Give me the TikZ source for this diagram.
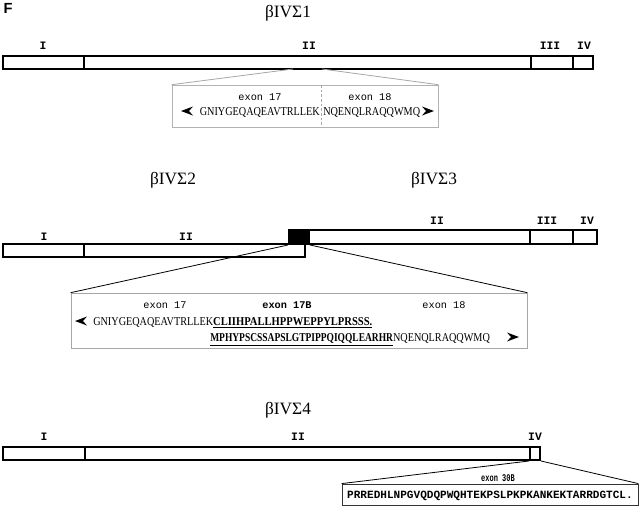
\documentclass[tikz,border=0pt]{standalone}
\usepackage{fontspec}
\setmainfont{Liberation Serif}
\newfontfamily\monof{Liberation Mono}
\newfontfamily\seqf[FakeStretch=0.85]{Liberation Serif}
\newfontfamily\seqfa[FakeStretch=0.88]{Liberation Serif}
\newfontfamily\seqfb[FakeStretch=0.79]{Liberation Serif}
\newfontfamily\narmono[FakeStretch=0.68]{Liberation Mono}
\newfontfamily\sansf{Liberation Sans}
\usetikzlibrary{fit}
\begin{document}
\begin{tikzpicture}[x=0.75pt,y=-0.75pt,
  seg/.style={draw, line width=1.5pt, inner sep=0pt, fill=white},
  blk/.style={seg, fill=black},
  dom/.style={font=\monof\bfseries\fontsize{8.5}{10}\selectfont, inner sep=0pt},
  ttl/.style={font=\fontsize{13}{15}\selectfont, inner sep=0pt},
  insetbox/.style={draw=gray!70, line width=0.5pt, inner sep=0pt},
  zl/.style={line width=0.6pt},
  exl/.style={font=\monof\fontsize{7.7}{9}\selectfont, inner sep=0pt},
  seq/.style={font=\seqf\fontsize{9}{11}\selectfont, inner sep=0pt},
  larr/.pic={\fill (0,0) -- (12,-4.5) -- (8,0) -- (12,4.5) -- cycle;},
  rarr/.pic={\fill (0,0) -- (-12,-4.5) -- (-8,0) -- (-12,4.5) -- cycle;}]
\useasboundingbox (0,0) rectangle (640,507);

% panel letter
\node[font=\sansf\bfseries\fontsize{11}{13}\selectfont, inner sep=0pt] (F) at (8,8) {F};

% ===== beta IV Sigma 1 =====
\node[ttl] (t1) at (288,13) {βIVΣ1};
\node[seg, fit={(3,56) (84,69)}] (b1a) {};
\node[seg, fit={(84,56) (531,69)}] (b1b) {};
\node[seg, fit={(531,56) (573,69)}] (b1c) {};
\node[seg, fit={(573,56) (593,69)}] (b1d) {};
\node[dom] (l1a) at (43,46) {I};
\node[dom] (l1b) at (309,46) {II};
\node[dom] (l1c) at (550,46) {III};
\node[dom] (l1d) at (584,46) {IV};

\node[insetbox, draw=gray!60, fit={(172,85) (438,127)}] (box1) {};
\coordinate (z1a) at (293,69);
\coordinate (z1b) at (322,69);
\draw[zl, gray!70] (z1a) -- (box1.north west);
\draw[zl, gray!70] (z1b) -- (box1.north east);
\coordinate (d1t) at (321,85);
\coordinate (d1b) at (321,127);
\draw[gray!70, line width=0.5pt, dashed, dash pattern=on 2pt off 1.5pt] (d1t) -- (d1b);
\node[exl, anchor=base] (e17a) at (260,100) {exon 17};
\node[exl, anchor=base] (e18a) at (370,100) {exon 18};
\node[seq, anchor=base east] (s1l) at (320,115) {GNIYGEQAQEAVTRLLEK};
\node[seq, anchor=base west] (s1r) at (323,115) {NQENQLRAQQWMQ};
\pic at (181,111) {larr};
\pic at (434,111) {rarr};

% ===== beta IV Sigma 2 / 3 =====
\node[ttl] (t2) at (173,180) {βIVΣ2};
\node[ttl] (t3) at (434,180) {βIVΣ3};
\node[seg, fit={(3,244) (84,257)}] (b2a) {};
\node[seg, fit={(84,244) (305,257)}] (b2b) {};
\node[blk, fit={(289,230) (309,244)}] (blk) {};
\node[seg, fit={(309,230) (530,244)}] (b3b) {};
\node[seg, fit={(530,230) (573,244)}] (b3c) {};
\node[seg, fit={(573,230) (597,244)}] (b3d) {};
\node[dom] (l2a) at (44,237) {I};
\node[dom] (l2b) at (186,237) {II};
\node[dom] (l3b) at (437,221) {II};
\node[dom] (l3c) at (547,221) {III};
\node[dom] (l3d) at (587,221) {IV};

\node[insetbox, fit={(71,293) (527,348)}] (box2) {};
\draw[zl] (blk.south west) -- (box2.north west);
\draw[zl] (blk.south east) -- (box2.north east);
\node[exl, anchor=base] (e17b) at (165,308) {exon 17};
\node[exl, anchor=base, font=\monof\bfseries\fontsize{7.7}{9}\selectfont] (e17B) at (287,308) {exon 17B};
\node[exl, anchor=base] (e18b) at (444,308) {exon 18};
\node[seq, anchor=base west] (q1) at (93,325) {GNIYGEQAQEAVTRLLEK\underline{\seqfa\bfseries CLIIHPALLHPPWEPPYLPRSSS.}};
\node[seq, anchor=base west] (q2) at (210,341) {\underline{\seqfb\bfseries MPHYPSCSSAPSLGTPIPPQIQQLEARHR}NQENQLRAQQWMQ};
\pic at (75,321) {larr};
\pic at (519,337) {rarr};

% ===== beta IV Sigma 4 =====
\node[ttl] (t4) at (288,410) {βIVΣ4};
\node[seg, fit={(3,447) (85,460)}] (b4a) {};
\node[seg, fit={(85,447) (530,460)}] (b4b) {};
\node[seg, fit={(530,447) (540,460)}] (b4c) {};
\node[dom] (l4a) at (44,437) {I};
\node[dom] (l4b) at (298,437) {II};
\node[dom] (l4c) at (535,437) {IV};

\node[insetbox, draw=gray!40!black, line width=0.6pt, fit={(342,484) (638,505)}] (box3) {};
\draw[zl] (b4c.south west) -- (box3.north west);
\draw[zl] (b4c.south east) -- (box3.north east);
\node[font=\narmono\bfseries\fontsize{7.7}{9}\selectfont, inner sep=0pt, anchor=base] (e30) at (498,481) {exon 30B};
\node[font=\monof\bfseries\fontsize{8.3}{10}\selectfont, inner sep=0pt, anchor=base] (s3) at (490,498) {PRREDHLNPGVQDQPWQHTEKPSLPKPKANKEKTARRDGTCL.};
\end{tikzpicture}
\end{document}
